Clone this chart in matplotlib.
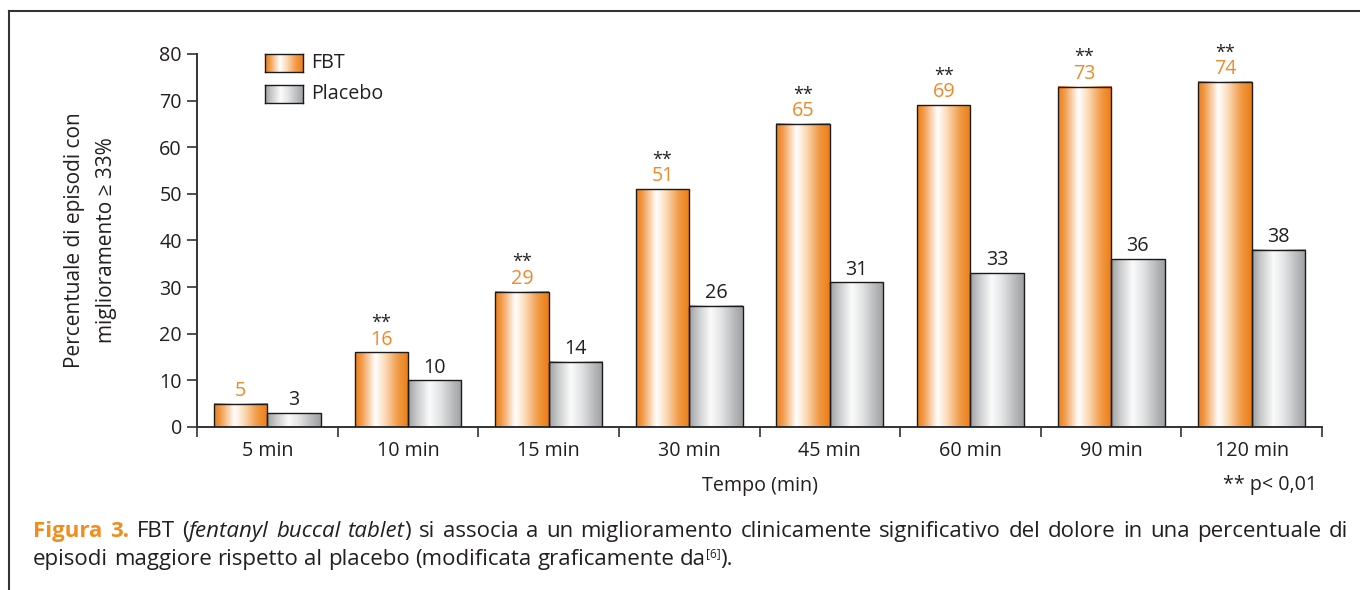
import numpy as np
import matplotlib
matplotlib.use("Agg")
import matplotlib.pyplot as plt
from matplotlib.colors import LinearSegmentedColormap
from matplotlib.patches import Rectangle
from matplotlib.lines import Line2D

plt.rcParams['font.family'] = ['Open Sans', 'DejaVu Sans']

# data
categories = ["5 min", "10 min", "15 min", "30 min", "45 min", "60 min", "90 min", "120 min"]
fbt = [5, 16, 29, 51, 65, 69, 73, 74]
placebo = [3, 10, 14, 26, 31, 33, 36, 38]
significant = [False, True, True, True, True, True, True, True]

TEXT = "#231f20"
ORANGE_TXT = "#f0892a"
FS = 14.2

# horizontal "cylinder" shading for the bars
orange_cmap = LinearSegmentedColormap.from_list(
    "orange_tube",
    [(0.0, "#ec7d12"), (0.12, "#f29a4a"), (0.38, "#ffffff"), (0.55, "#fcdcbc"),
     (0.8, "#f19a45"), (1.0, "#ec7d12")])
gray_cmap = LinearSegmentedColormap.from_list(
    "gray_tube",
    [(0.0, "#9d9fa2"), (0.15, "#c4c6c8"), (0.4, "#fbfbfb"), (0.6, "#e2e3e4"),
     (0.85, "#b5b7b9"), (1.0, "#9d9fa2")])
grad = np.linspace(0, 1, 256).reshape(1, -1)


def gradient_bar(ax, x, width, height, cmap):
    ax.imshow(grad, extent=[x, x + width, 0, height], cmap=cmap,
              aspect='auto', interpolation='bilinear', zorder=2)
    ax.add_patch(Rectangle((x, 0), width, height, fill=False,
                           edgecolor="#1a1a1a", linewidth=1.0, zorder=3))


fig = plt.figure(figsize=(13.6, 5.9), dpi=100)
ax = fig.add_axes([0.1449, 0.2763, 0.8272, 0.6322])

w = 0.38
x = np.arange(len(categories))
for i in x:
    gradient_bar(ax, i - w, w, fbt[i], orange_cmap)
    gradient_bar(ax, i, w, placebo[i], gray_cmap)
    ax.text(i - w / 2, fbt[i] + 0.6, str(fbt[i]), ha='center', va='bottom',
            fontsize=FS, color=ORANGE_TXT)
    ax.text(i + w / 2, placebo[i] + 0.6, str(placebo[i]), ha='center', va='bottom',
            fontsize=FS, color=TEXT)
    if significant[i]:
        ax.text(i - w / 2, fbt[i] + 4.4, "**", ha='center', va='bottom',
                fontsize=13, color=TEXT)

ax.set_xlim(-0.5, len(categories) - 0.5)
ax.set_ylim(0, 80)

for side in ['top', 'right']:
    ax.spines[side].set_visible(False)
for side in ['left', 'bottom']:
    ax.spines[side].set_linewidth(1.4)
    ax.spines[side].set_color("#333333")

ax.set_yticks(np.arange(0, 81, 10))
ax.tick_params(axis='y', direction='out', length=7, width=1.2, color="#333333",
               labelsize=FS, labelcolor=TEXT, pad=4)
ax.set_xticks(x)
ax.set_xticklabels(categories)
ax.set_xticks(np.arange(-0.5, len(categories)), minor=True)
ax.tick_params(axis='x', which='major', length=0, labelsize=FS, labelcolor=TEXT, pad=10)
ax.tick_params(axis='x', which='minor', direction='out', length=7, width=1.2, color="#333333")

ax.set_ylabel("Percentuale di episodi con\nmiglioramento \u2265 33%", fontsize=15,
              color=TEXT, labelpad=30, linespacing=1.7)
ax.set_xlabel("Tempo (min)", fontsize=FS, color=TEXT, labelpad=11)
ax.text(0.9955, -0.128, "** p< 0,01", transform=ax.transAxes, ha='right', va='top',
        fontsize=FS, color=TEXT)

# legend swatches with the same shading
for (label, cmap, ypos) in [("FBT", orange_cmap, 0.952), ("Placebo", gray_cmap, 0.869)]:
    sw = ax.inset_axes([0.060, ypos, 0.034, 0.048])
    sw.imshow(grad, cmap=cmap, aspect='auto', interpolation='bilinear')
    sw.set_xticks([])
    sw.set_yticks([])
    for s in sw.spines.values():
        s.set_linewidth(1.0)
        s.set_color("#1a1a1a")
    ax.text(0.101, ypos + 0.024, label, transform=ax.transAxes, ha='left', va='center',
            fontsize=FS, color=TEXT)

# box frame (top and left rules)
fig.add_artist(Line2D([0.0066, 1.0], [0.9814, 0.9814], color="#333333", lw=1.5,
                      transform=fig.transFigure))
fig.add_artist(Line2D([0.0066, 0.0066], [0.0, 0.9814], color="#333333", lw=1.5,
                      transform=fig.transFigure))

# caption, laid out word by word so the first line can be justified
renderer = fig.canvas.get_renderer()
CAP = 16.0


def text_width(text, style):
    t = fig.text(0, 0, text, **style)
    wdt = t.get_window_extent(renderer).width / fig.bbox.width
    t.remove()
    return wdt


def draw_line(x0, y0, pieces, right=None):
    # pieces: (text, style, space_before)
    styled = []
    for text, style, sp in pieces:
        kw = dict(fontsize=CAP, color=TEXT, va='baseline', ha='left')
        kw.update(style)
        dy = kw.pop('dy', 0)
        styled.append((text, kw, dy, sp))
    space = text_width("a a", dict(fontsize=CAP)) - text_width("aa", dict(fontsize=CAP))
    widths = [text_width(t, kw) for t, kw, _, _ in styled]
    gaps = sum(1 for *_, sp in styled if sp)
    natural = sum(widths) + gaps * space
    if right is not None and gaps:
        space += (right - x0 - natural) / gaps
    xpos = x0
    for (text, kw, dy, sp), wdt in zip(styled, widths):
        if sp:
            xpos += space
        fig.text(xpos, y0 + dy, text, **kw)
        xpos += wdt


def words(text, style=None, first_space=True):
    style = style or {}
    return [(wd, style, first_space or k > 0) for k, wd in enumerate(text.split(" "))]


bold_orange = dict(color="#f28c1e", fontweight='bold')
italic = dict(style='italic')
line1 = (words("Figura 3.", bold_orange, first_space=False)
         + words("FBT (")
         + words("fentanyl buccal tablet", italic, first_space=False)
         + words(") si associa a un miglioramento clinicamente significativo del dolore "
                 "in una percentuale di", first_space=False))
line2 = (words("episodi maggiore rispetto al placebo (modificata graficamente da",
               first_space=False)
         + [("[6]", dict(fontsize=8.5, dy=0.013), False), (").", {}, False)])

draw_line(0.0243, 1 - 537 / 590, line1, right=1348 / 1360)
draw_line(0.0243, 1 - 565 / 590, line2)

fig.savefig("out.png", dpi=100)
